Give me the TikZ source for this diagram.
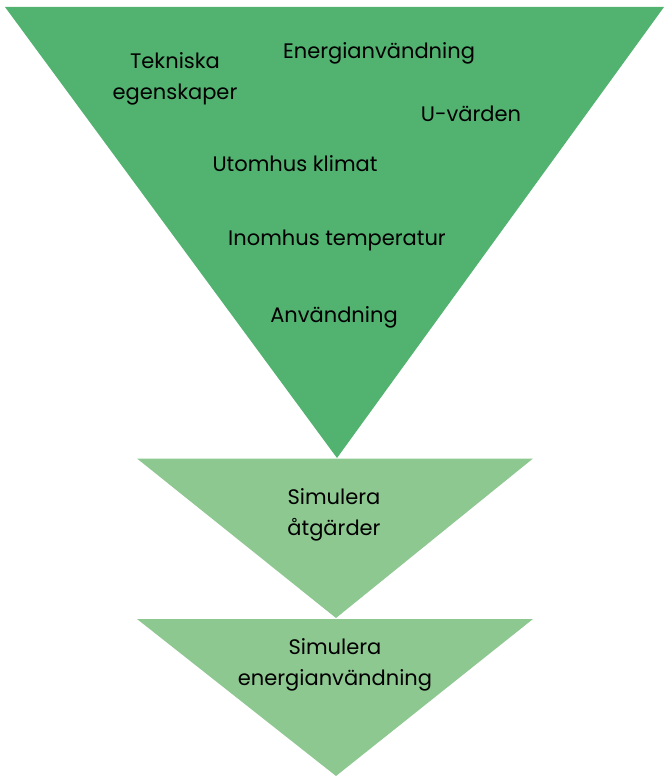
\documentclass[tikz,border=0pt]{standalone}
\usepackage{fontspec}
\setmainfont{Poppins}
\definecolor{darkgreen}{RGB}{82,178,112}
\definecolor{lightgreen}{RGB}{142,200,145}
\begin{document}
\begin{tikzpicture}[x=1pt,y=-1pt,
  lbl/.style={font=\fontsize{21}{31}\selectfont, text=black, align=center, inner sep=0pt}]
\useasboundingbox (0,0) rectangle (664,776);
% big triangle
\coordinate (A1) at (5,7);
\coordinate (A2) at (664,7);
\coordinate (A3) at (337,458);
\fill[darkgreen] (A1) -- (A2) -- (A3) -- cycle;
% second triangle
\coordinate (B1) at (137,458.5);
\coordinate (B2) at (533,458.5);
\coordinate (B3) at (336,618);
\fill[lightgreen] (B1) -- (B2) -- (B3) -- cycle;
% third triangle
\coordinate (C1) at (137,619);
\coordinate (C2) at (533,619);
\coordinate (C3) at (336,776);
\fill[lightgreen] (C1) -- (C2) -- (C3) -- cycle;
% labels
\node[lbl] (tek) at (175,78.5) {Tekniska\\egenskaper};
\node[lbl] (ene) at (379,53) {Energianvändning};
\node[lbl] (uv) at (471,113.5) {U-värden};
\node[lbl] (utk) at (295,163.5) {Utomhus klimat};
\node[lbl] (inn) at (337,240.5) {Inomhus temperatur};
\node[lbl] (anv) at (334,317.5) {Användning};
\node[lbl] (sima) at (334,515) {Simulera\\åtgärder};
\node[lbl] (sime) at (335,664.5) {Simulera\\energianvändning};
\end{tikzpicture}
\end{document}
